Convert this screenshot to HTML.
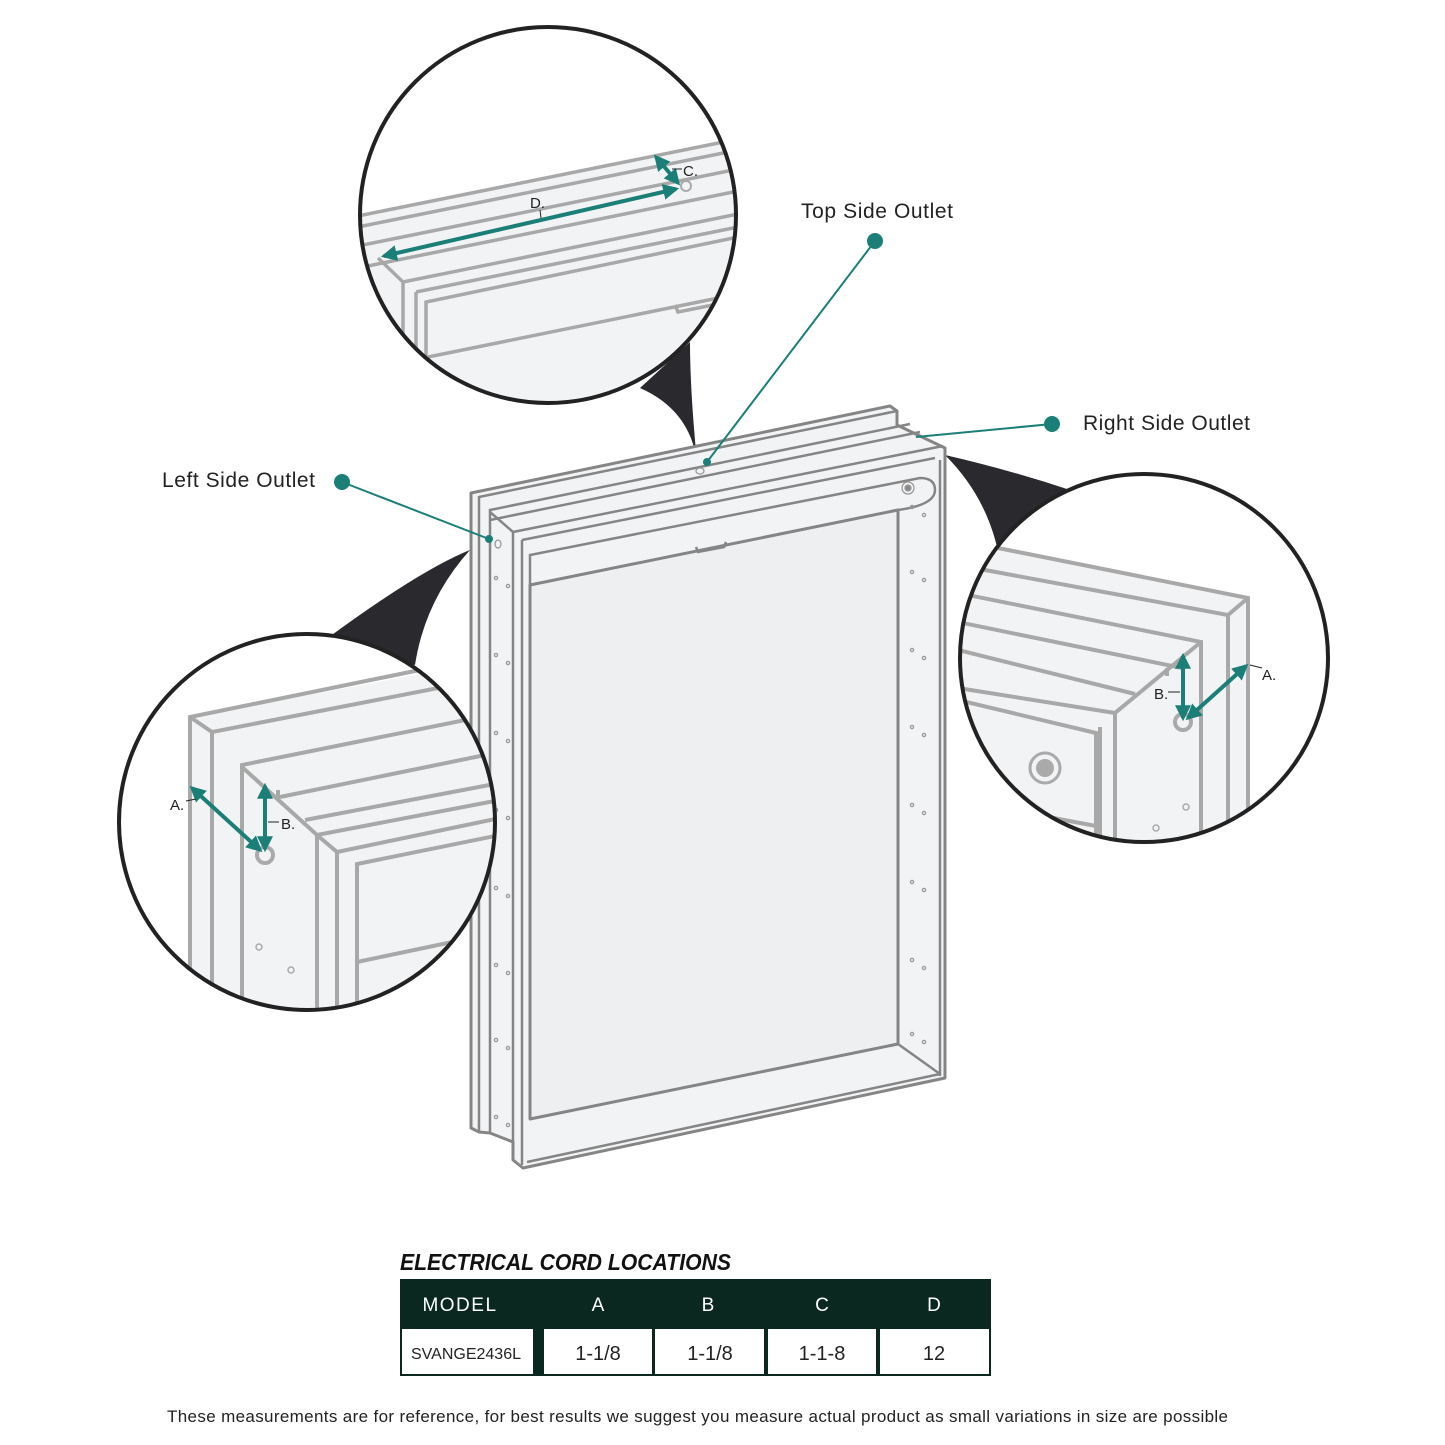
<!DOCTYPE html>
<html><head><meta charset="utf-8"><style>
html,body{margin:0;padding:0;background:#fff}
svg{display:block}
text{font-family:"Liberation Sans",sans-serif}
</style></head><body>
<svg width="1445" height="1445" viewBox="0 0 1445 1445" xmlns="http://www.w3.org/2000/svg">
<defs>
<clipPath id="ct"><circle cx="548" cy="215" r="188"/></clipPath>
<clipPath id="cl"><circle cx="307" cy="822" r="188"/></clipPath>
<clipPath id="cr"><circle cx="1144" cy="658" r="184"/></clipPath>
<marker id="ah" viewBox="0 0 10 10" refX="8" refY="5" markerWidth="4" markerHeight="4" orient="auto-start-reverse"><path d="M0,0 L10,5 L0,10 z" fill="#1b7f78"/></marker>
</defs>

<!-- callout wedges -->
<path d="M640,388 Q690,410 697,462 Q690,390 690,342 Z" fill="#2a2a2e"/>
<path d="M325,640 Q420,570 470,550 Q425,600 415,665 Z" fill="#2a2a2e"/>
<path d="M945,455 Q1010,470 1070,490 Q1010,520 1000,562 Q990,500 945,455 Z" fill="#2a2a2e"/>

<!-- main cabinet -->
<g fill="#f2f3f5" stroke="#858585" stroke-width="3" stroke-linejoin="round">
 <polygon points="471,493 890,406 897,411 897,425 945,448 945,1078 523,1168 513,1160 513,1142 490,1133 479,1132 471,1128"/>
 <polygon points="530,585 898,510 898,1044 530,1119" fill="#eeeff1"/>
</g>
<g fill="none" stroke="#858585" stroke-width="2.5">
 <polyline points="479,1132 479,497 897,411"/>
 <polyline points="490,1133 490,510 910,424"/>
 <line x1="490" y1="520" x2="920" y2="432"/>
 <polyline points="490,512 513,532 513,1160"/>
 <line x1="522" y1="540" x2="522" y2="1165"/>
 <line x1="513" y1="532" x2="943" y2="446"/>
 <line x1="522" y1="540" x2="935" y2="458"/>
 <path d="M530,1119 L530,555 L920,478 Q935,478 935,490 Q935,505 898,510"/>
 <line x1="530" y1="585" x2="898" y2="510"/>
 <line x1="898" y1="510" x2="898" y2="1044"/>
 <line x1="940" y1="460" x2="940" y2="1076"/>
 <line x1="530" y1="1119" x2="898" y2="1044"/>
 <line x1="898" y1="1044" x2="940" y2="1074"/>
 <line x1="527" y1="1162" x2="940" y2="1074"/>
 <path d="M696,547 L698,552 L724,547 L726,542"/>
</g>
<g fill="none" stroke="#999" stroke-width="1.3">
 <circle cx="908" cy="488" r="6"/><circle cx="908" cy="488" r="3" fill="#888"/>
 <ellipse cx="700" cy="471" rx="4" ry="3"/>
 <ellipse cx="498" cy="544" rx="3" ry="4"/>
 <circle cx="496" cy="578" r="1.6"/><circle cx="508" cy="586" r="1.6"/>
 <circle cx="496" cy="655" r="1.6"/><circle cx="508" cy="663" r="1.6"/>
 <circle cx="496" cy="733" r="1.6"/><circle cx="508" cy="741" r="1.6"/>
 <circle cx="496" cy="810" r="1.6"/><circle cx="508" cy="818" r="1.6"/>
 <circle cx="496" cy="888" r="1.6"/><circle cx="508" cy="896" r="1.6"/>
 <circle cx="496" cy="965" r="1.6"/><circle cx="508" cy="973" r="1.6"/>
 <circle cx="496" cy="1040" r="1.6"/><circle cx="508" cy="1048" r="1.6"/>
 <circle cx="496" cy="1117" r="1.6"/><circle cx="508" cy="1125" r="1.6"/>
 <circle cx="912" cy="507" r="1.6"/><circle cx="924" cy="515" r="1.6"/>
 <circle cx="912" cy="572" r="1.6"/><circle cx="924" cy="580" r="1.6"/>
 <circle cx="912" cy="650" r="1.6"/><circle cx="924" cy="658" r="1.6"/>
 <circle cx="912" cy="727" r="1.6"/><circle cx="924" cy="735" r="1.6"/>
 <circle cx="912" cy="805" r="1.6"/><circle cx="924" cy="813" r="1.6"/>
 <circle cx="912" cy="882" r="1.6"/><circle cx="924" cy="890" r="1.6"/>
 <circle cx="912" cy="960" r="1.6"/><circle cx="924" cy="968" r="1.6"/>
 <circle cx="912" cy="1034" r="1.6"/><circle cx="924" cy="1042" r="1.6"/>
</g>

<!-- TOP CIRCLE -->
<circle cx="548" cy="215" r="188" fill="#fff"/>
<g clip-path="url(#ct)">
 <polygon points="358,216 738,139 738,420 358,420" fill="#f2f3f5"/>
 <g stroke="#a8a8a8" stroke-width="3.5" fill="none">
  <line x1="358" y1="216" x2="738" y2="139"/>
  <line x1="358" y1="227" x2="738" y2="150"/>
  <line x1="358" y1="246" x2="738" y2="169"/>
  <polyline points="378,258 403,282 738,214"/>
  <line x1="358" y1="268" x2="738" y2="191"/>
  <line x1="416" y1="292" x2="738" y2="227"/>
  <polyline points="426,360 426,302 738,237"/>
  <line x1="403" y1="282" x2="403" y2="420"/>
  <line x1="416" y1="292" x2="416" y2="420"/>
  <line x1="428" y1="357" x2="738" y2="294"/>
  <path d="M675,305 L678,312 L738,300"/>
 </g>
 <circle cx="686" cy="186" r="5" fill="none" stroke="#aaa" stroke-width="2"/>
</g>
<circle cx="548" cy="215" r="188" fill="none" stroke="#222" stroke-width="4"/>
<g stroke="#1b7f78" stroke-width="4" fill="none">
 <line x1="384" y1="256" x2="676" y2="189" marker-start="url(#ah)" marker-end="url(#ah)"/>
 <line x1="656" y1="157" x2="678" y2="183" marker-start="url(#ah)" marker-end="url(#ah)"/>
</g>
<line x1="540" y1="210" x2="541" y2="218" stroke="#222" stroke-width="1"/>
<line x1="672" y1="169" x2="682" y2="169" stroke="#222" stroke-width="1"/>
<text x="530" y="208" font-size="15" fill="#222">D.</text>
<text x="683" y="176" font-size="15" fill="#222">C.</text>

<!-- LEFT CIRCLE -->
<circle cx="307" cy="822" r="188" fill="#fff"/>
<g clip-path="url(#cl)">
 <polygon points="190,717 497,660 497,1012 190,1012" fill="#f2f3f5"/>
 <g stroke="#a8a8a8" stroke-width="4" fill="none">
  <polyline points="190,1012 190,717 410,672 500,655"/>
  <polyline points="212,1012 212,732 500,676"/>
  <line x1="190" y1="717" x2="212" y2="732"/>
  <polyline points="242,1012 242,765 500,713"/>
  <polyline points="242,767 317,835 500,800"/>
  <line x1="280" y1="797" x2="500" y2="752"/>
  <line x1="305" y1="820" x2="500" y2="783"/>
  <line x1="317" y1="835" x2="317" y2="1012"/>
  <line x1="337" y1="852" x2="337" y2="1012"/>
  <line x1="317" y1="835" x2="337" y2="852"/>
  <line x1="337" y1="852" x2="500" y2="818"/>
  <polyline points="357,1012 357,864 500,835"/>
  <line x1="357" y1="962" x2="500" y2="932"/>
  <path d="M278,790 L278,800"/>
 </g>
 <circle cx="265" cy="855" r="8" fill="none" stroke="#aaa" stroke-width="4"/>
 <circle cx="259" cy="947" r="3" fill="none" stroke="#aaa" stroke-width="1.5"/>
 <circle cx="291" cy="970" r="3" fill="none" stroke="#aaa" stroke-width="1.5"/>
</g>
<circle cx="307" cy="822" r="188" fill="none" stroke="#222" stroke-width="4"/>
<g stroke="#1b7f78" stroke-width="4" fill="none">
 <line x1="192" y1="788" x2="260" y2="850" marker-start="url(#ah)" marker-end="url(#ah)"/>
 <line x1="265" y1="786" x2="265" y2="849" marker-start="url(#ah)" marker-end="url(#ah)"/>
</g>
<line x1="186" y1="801" x2="196" y2="799" stroke="#222" stroke-width="1"/>
<line x1="268" y1="822" x2="279" y2="822" stroke="#222" stroke-width="1"/>
<text x="170" y="810" font-size="15" fill="#222">A.</text>
<text x="281" y="829" font-size="15" fill="#222">B.</text>

<!-- RIGHT CIRCLE -->
<circle cx="1144" cy="658" r="184" fill="#fff"/>
<g clip-path="url(#cr)">
 <polygon points="958,540 1248,598 1248,850 958,850" fill="#f2f3f5"/>
 <g stroke="#a8a8a8" stroke-width="4" fill="none">
  <polyline points="958,540 1248,598 1248,850"/>
  <polyline points="958,565 1228,615 1228,850"/>
  <line x1="1248" y1="598" x2="1228" y2="615"/>
  <polyline points="958,593 1201,642 1201,850"/>
  <line x1="958" y1="622" x2="1182" y2="668"/>
  <line x1="958" y1="650" x2="1135" y2="694"/>
  <polyline points="1201,642 1115,713 1115,850"/>
  <polyline points="958,688 1115,713"/>
  <line x1="1100" y1="727" x2="1100" y2="850"/>
  <polyline points="958,700 1096,733 1096,850"/>
  <line x1="958" y1="800" x2="1096" y2="826"/>
  <path d="M1167,668 L1167,676"/>
 </g>
 <circle cx="1183" cy="722" r="8" fill="none" stroke="#aaa" stroke-width="4"/>
 <circle cx="1045" cy="768" r="15" fill="none" stroke="#aaa" stroke-width="3"/>
 <circle cx="1045" cy="768" r="9" fill="#aaa"/>
 <circle cx="1186" cy="807" r="3" fill="none" stroke="#aaa" stroke-width="1.5"/>
 <circle cx="1156" cy="828" r="3" fill="none" stroke="#aaa" stroke-width="1.5"/>
</g>
<circle cx="1144" cy="658" r="184" fill="none" stroke="#222" stroke-width="4"/>
<g stroke="#1b7f78" stroke-width="4" fill="none">
 <line x1="1183" y1="656" x2="1183" y2="718" marker-start="url(#ah)" marker-end="url(#ah)"/>
 <line x1="1188" y1="718" x2="1246" y2="666" marker-start="url(#ah)" marker-end="url(#ah)"/>
</g>
<line x1="1168" y1="692" x2="1180" y2="692" stroke="#222" stroke-width="1"/>
<line x1="1250" y1="665" x2="1262" y2="668" stroke="#222" stroke-width="1"/>
<text x="1154" y="699" font-size="15" fill="#222">B.</text>
<text x="1262" y="680" font-size="15" fill="#222">A.</text>

<!-- outlet callouts -->
<g stroke="#1b7f78" stroke-width="2" fill="#1b7f78">
 <line x1="875" y1="241" x2="707" y2="462"/>
 <circle cx="875" cy="241" r="7"/><circle cx="707" cy="462" r="3"/>
 <line x1="1052" y1="424" x2="916" y2="437"/>
 <circle cx="1052" cy="424" r="7"/>
 <line x1="342" y1="482" x2="489" y2="539"/>
 <circle cx="342" cy="482" r="7"/><circle cx="489" cy="539" r="3"/>
</g>
<text x="801" y="218" font-size="21" textLength="152" fill="#222">Top Side Outlet</text>
<text x="1083" y="430" font-size="21" textLength="167" fill="#222">Right Side Outlet</text>
<text x="162" y="487" font-size="21" textLength="153" fill="#222">Left Side Outlet</text>

<!-- table -->
<text x="400" y="1270" font-size="23" font-weight="bold" font-style="italic" fill="#111" textLength="331" lengthAdjust="spacingAndGlyphs">ELECTRICAL CORD LOCATIONS</text>
<rect x="400" y="1279" width="591" height="97" fill="#0b2820"/>
<g fill="#fff">
 <rect x="402" y="1329" width="131" height="45"/>
 <rect x="544" y="1329" width="108" height="45"/>
 <rect x="655" y="1329" width="109" height="45"/>
 <rect x="768" y="1329" width="108" height="45"/>
 <rect x="880" y="1329" width="109" height="45"/>
</g>
<g fill="#fff" font-size="19" text-anchor="middle">
 <text x="460" y="1311" letter-spacing="1.5">MODEL</text>
 <text x="598" y="1311">A</text>
 <text x="708" y="1311">B</text>
 <text x="822" y="1311">C</text>
 <text x="934" y="1311">D</text>
</g>
<g fill="#222" text-anchor="middle">
 <text x="466" y="1359" font-size="16">SVANGE2436L</text>
 <text x="598" y="1360" font-size="20">1-1/8</text>
 <text x="710" y="1360" font-size="20">1-1/8</text>
 <text x="822" y="1360" font-size="20">1-1-8</text>
 <text x="934" y="1360" font-size="20">12</text>
</g>
<text x="167" y="1422" font-size="17" textLength="1061" fill="#222">These measurements are for reference, for best results we suggest you measure actual product as small variations in size are possible</text>
</svg>
</body></html>
